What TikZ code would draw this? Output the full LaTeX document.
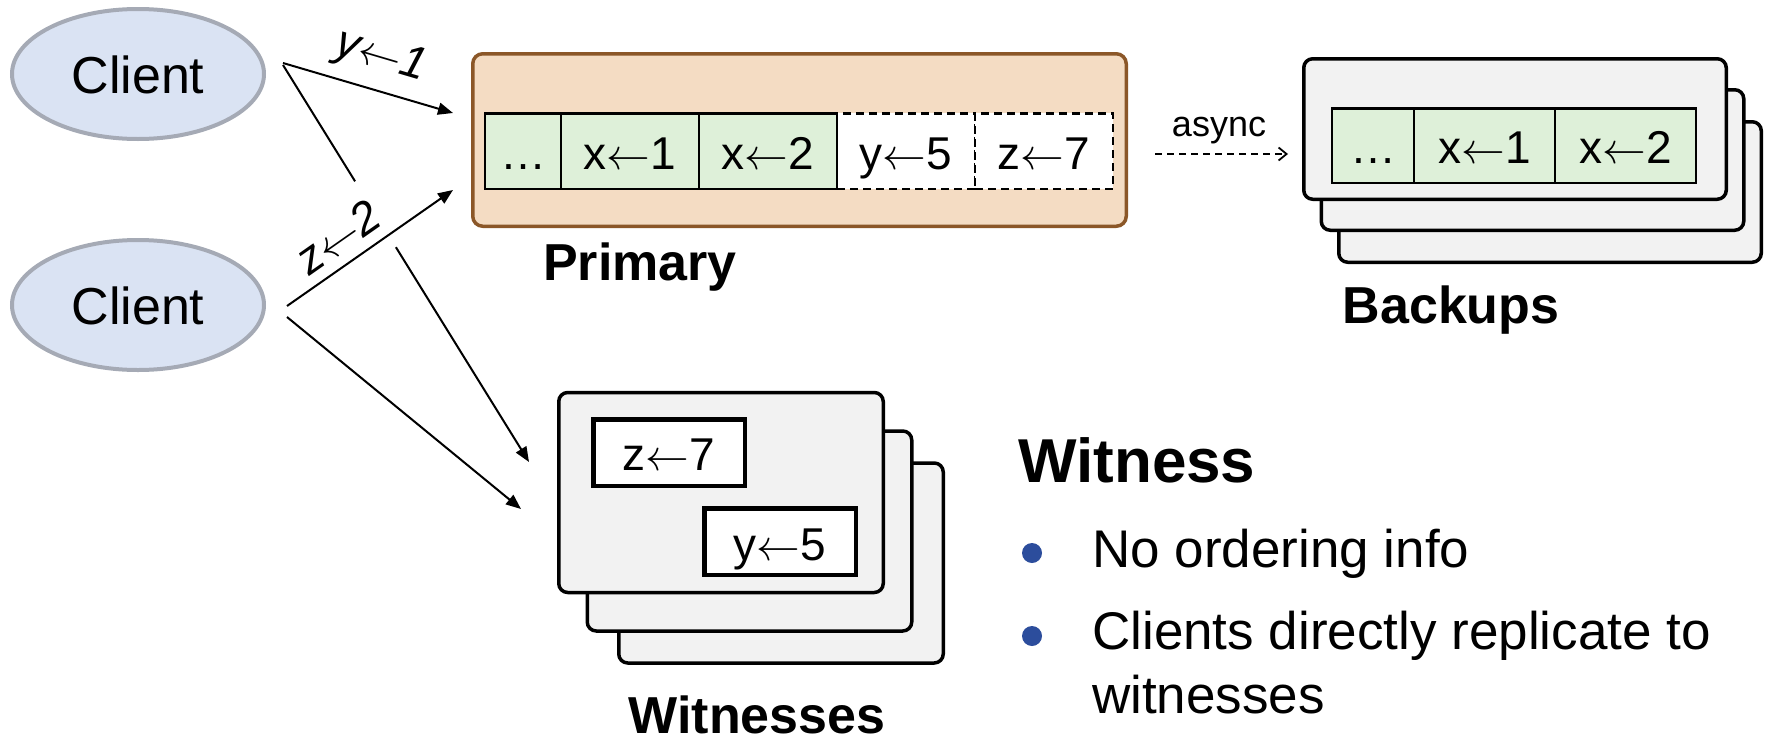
\documentclass[tikz,border=0pt]{standalone}
\usepackage{graphicx}
\usepackage{fontspec}
\setmainfont{Liberation Sans}
\usetikzlibrary{arrows.meta,shapes.geometric,calc}

\definecolor{clientfill}{HTML}{DAE3F3}
\definecolor{clientline}{HTML}{A5AAB5}
\definecolor{primfill}{HTML}{F4DCC3}
\definecolor{primline}{HTML}{8B5728}
\definecolor{logfill}{HTML}{DEF0D9}
\definecolor{boxfill}{HTML}{F2F2F2}
\definecolor{bulletblue}{HTML}{2C4D9C}

% assignment arrow used in the log records, one em wide at any font size
\newcommand\asg{\resizebox{0.95em}{!}{$\leftarrow$}}

\begin{document}
\begin{tikzpicture}[x=1pt,y=-1pt,
  client/.style={ellipse, draw=clientline, fill=clientfill, line width=4pt,
    minimum width=252pt, minimum height=130pt, inner sep=0pt,
    font=\fontsize{52}{62}\selectfont, text height=38pt, text depth=0pt},
  primbox/.style={rectangle, rounded corners=10pt, draw=primline, fill=primfill,
    line width=3.5pt, inner sep=0pt},
  stackbox/.style={rectangle, rounded corners=9pt, draw=black, fill=boxfill,
    line width=3.5pt, inner sep=0pt},
  cellfont/.style={font=\fontsize{46}{55}\selectfont, text depth=0pt},
  logcell/.style={rectangle, draw=black, fill=logfill, line width=2.5pt,
    inner sep=0pt, cellfont, text height=36pt},
  pendcell/.style={rectangle, draw=black, fill=white, line width=2.5pt,
    dash pattern=on 8pt off 5pt, inner sep=0pt, cellfont, text height=36pt},
  witcell/.style={rectangle, draw=black, fill=white, line width=4.5pt,
    inner sep=0pt, cellfont},
  conn/.style={line width=2pt, draw=black},
  arr/.style={conn, -{Triangle[length=15pt,width=12pt]}},
  asyncarr/.style={line width=1.8pt, dash pattern=on 7pt off 5pt,
    -{Straight Barb[length=8pt,width=13pt]}},
  opfont/.style={font=\fontsize{46}{55}\itshape\selectfont, inner sep=0pt},
  title/.style={font=\fontsize{52}{62}\bfseries\selectfont, inner sep=0pt, anchor=base},
  bullettext/.style={font=\fontsize{53}{64}\selectfont, inner sep=0pt, anchor=base west},
  dot/.style={circle, fill=bulletblue, minimum size=20pt, inner sep=0pt}
]
\useasboundingbox (0,0) rectangle (1767,739);

% clients
\node[client] (c1) at (138,74) {Client};
\node[client] (c2) at (138,305) {Client};

% primary with its log
\node[primbox, minimum width=653.5pt, minimum height=172.5pt] (prim) at (799.5,140) {};
\node[pendcell, minimum width=138pt, minimum height=75.5pt] (p4) at (906,151) {y\asg5};
\node[pendcell, minimum width=138pt, minimum height=75.5pt] (p5) at (1044,151) {z\asg7};
\node[logcell, minimum width=76pt, minimum height=75.5pt] (p1) at (523,151) {…};
\node[logcell, minimum width=138pt, minimum height=75.5pt] (p2) at (630,151) {x\asg1};
\node[logcell, minimum width=138pt, minimum height=75.5pt] (p3) at (768,151) {x\asg2};
\node[title] (primlabel) at (640,280) {Primary};

% backups: three stacked replicas
\node[stackbox, minimum width=422.5pt, minimum height=140.5pt] (b3) at (1550,192) {};
\node[stackbox, minimum width=422.5pt, minimum height=140.5pt] (b2) at (1532.5,160) {};
\node[stackbox, minimum width=422.5pt, minimum height=140.5pt] (b1) at (1515,129) {};
\node[logcell, minimum width=82pt, minimum height=74.5pt] (q1) at (1373,145.5) {…};
\node[logcell, minimum width=141pt, minimum height=74.5pt] (q2) at (1484.5,145.5) {x\asg1};
\node[logcell, minimum width=141pt, minimum height=74.5pt] (q3) at (1625.5,145.5) {x\asg2};
\node[title] (backlabel) at (1451,323) {Backups};

% async replication to the backups
\coordinate (as) at (1155,154);
\coordinate (ae) at (1288,154);
\draw[asyncarr] (as) -- (ae);
\node[font=\fontsize{36}{43}\selectfont, inner sep=0pt, anchor=base] (async) at (1219,136) {async};

% witnesses: three stacked, unordered records
\node[stackbox, minimum width=324.5pt, minimum height=200pt] (w3) at (781,563) {};
\node[stackbox, minimum width=324.5pt, minimum height=200pt] (w2) at (749.5,531) {};
\node[stackbox, minimum width=324.5pt, minimum height=200pt] (w1) at (721,492.5) {};
\node[witcell, minimum width=151.5pt, minimum height=66.5pt, text height=35pt] (wz) at (669,452.5) {z\asg7};
\node[witcell, minimum width=151.5pt, minimum height=66.5pt, text height=37pt] (wy) at (780,541.5) {y\asg5};
\node[title] (witlabel) at (757,733) {Witnesses};

% client requests
\coordinate (a1s) at (283,63);
\coordinate (a1e) at (453,113);
\coordinate (a2s) at (283,65);
\coordinate (a2e) at (529,462);
\coordinate (a3s) at (287,306);
\coordinate (a3e) at (453,190);
\coordinate (a4s) at (287,317);
\coordinate (a4e) at (521,509);

\draw[arr] (a1s) -- (a1e);
\node[opfont, rotate=-16.4, anchor=base] (op1) at (378,68) {y\asg1};

\draw[conn] (a2s) -- ($(a2s)!0.293!(a2e)$);
\draw[arr] ($(a2s)!0.459!(a2e)$) -- (a2e);

\draw[arr] (a3s) -- (a3e);
\node[opfont, rotate=35, anchor=base] (op2) at (347,250) {z\asg2};

\draw[arr] (a4s) -- (a4e);

% witness summary
\node[font=\fontsize{62}{74}\bfseries\selectfont, inner sep=0pt, anchor=base west] (wh) at (1018,482) {Witness};
\node[dot] (d1) at (1032,553) {};
\node[dot] (d2) at (1032,636) {};
\node[bullettext] (t1) at (1092,567) {No ordering info};
\node[bullettext] (t2) at (1092,649) {Clients directly replicate to};
\node[bullettext] (t3) at (1092,713) {witnesses};
\end{tikzpicture}
\end{document}
